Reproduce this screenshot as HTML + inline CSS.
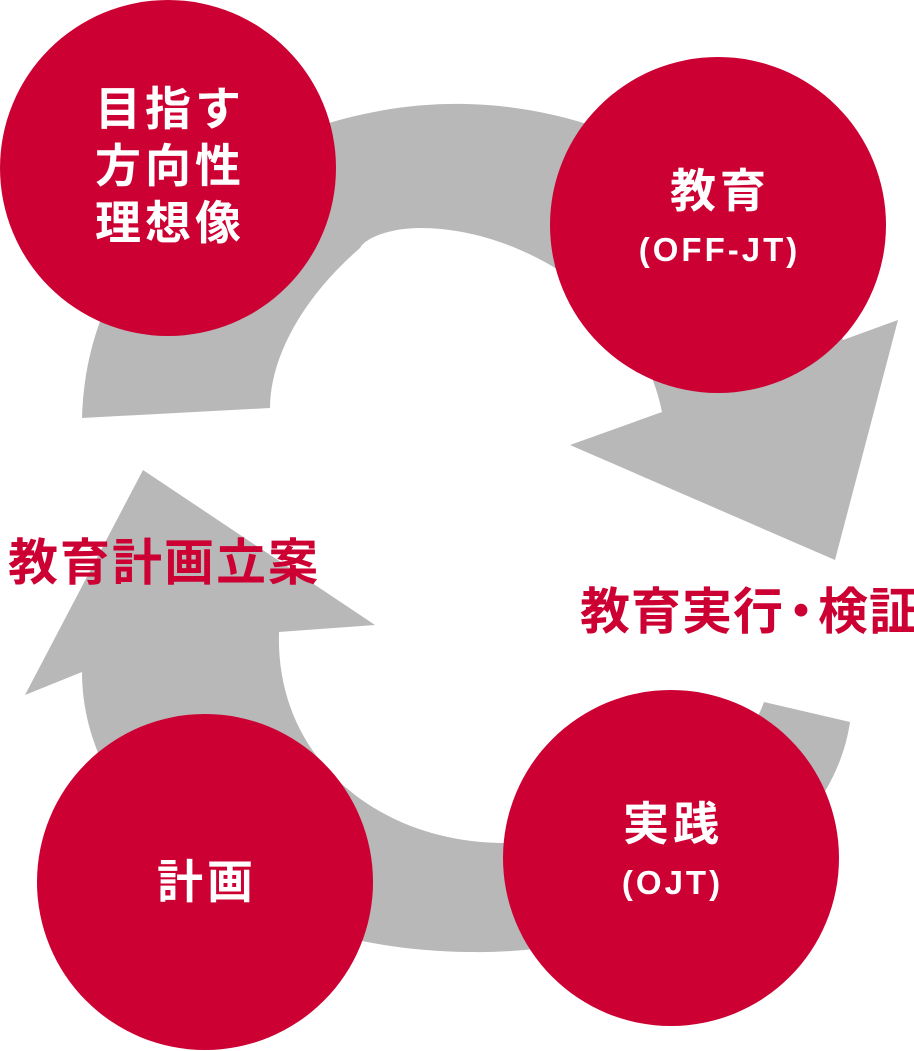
<!DOCTYPE html>
<html><head><meta charset="utf-8"><style>
html,body{margin:0;padding:0;background:#fff;}
body{width:914px;height:1051px;position:relative;overflow:hidden;font-family:"Liberation Sans","Noto Sans CJK JP",sans-serif;}
.c{position:absolute;width:336px;height:336px;border-radius:50%;background:#cc0033;color:#fff;font-weight:bold;display:flex;flex-direction:column;align-items:center;justify-content:center;text-align:center;}
.j{font-size:46px;letter-spacing:4px;line-height:57px;margin-right:-4px;}
.e{font-size:33px;letter-spacing:3px;line-height:40px;margin-top:10px;margin-right:-3px;}
.l{position:absolute;color:#cc0033;font-weight:bold;font-size:48px;white-space:nowrap;line-height:1;}
</style></head><body>
<svg width="914" height="1051" style="position:absolute;left:0;top:0">
<path fill="#b8b8b8" d="M82,418 C88,200 300,100 466,104 C650,108 800,230 843,340 L898,320 L835,560 L570,445 L662,412 C640,300 520,228 420,228 C390,228 365,238 360,248 C300,300 270,360 270,408 Z"/>
<path fill="#b8b8b8" d="M143,470 L375,625 L279,632 C275,760 380,843 505,843 C640,843 740,770 764,702 L850,722 C830,860 650,955 470,952 C240,950 82,820 82,672 L25,695 Z"/>
</svg>
<div class="c" style="left:0;top:0"><div class="j" style="margin-top:-4px">目指す<br>方向性<br>理想像</div></div>
<div class="c" style="left:550px;top:57px"><div class="j" style="margin-top:-18px">教育</div><div class="e">(OFF-JT)</div></div>
<div class="c" style="left:37px;top:714px"><div class="j">計画</div></div>
<div class="c" style="left:503px;top:690px"><div class="j" style="margin-top:-18px">実践</div><div class="e">(OJT)</div></div>
<div class="l" style="left:8px;top:538px;font-size:50px;letter-spacing:2px">教育計画立案</div>
<div class="l" style="left:580px;top:587px;font-size:50px;letter-spacing:1px">教育実行<span style="letter-spacing:-14px;margin-left:-8px">・</span><span style="margin-left:6px">検証</span></div>
</body></html>
